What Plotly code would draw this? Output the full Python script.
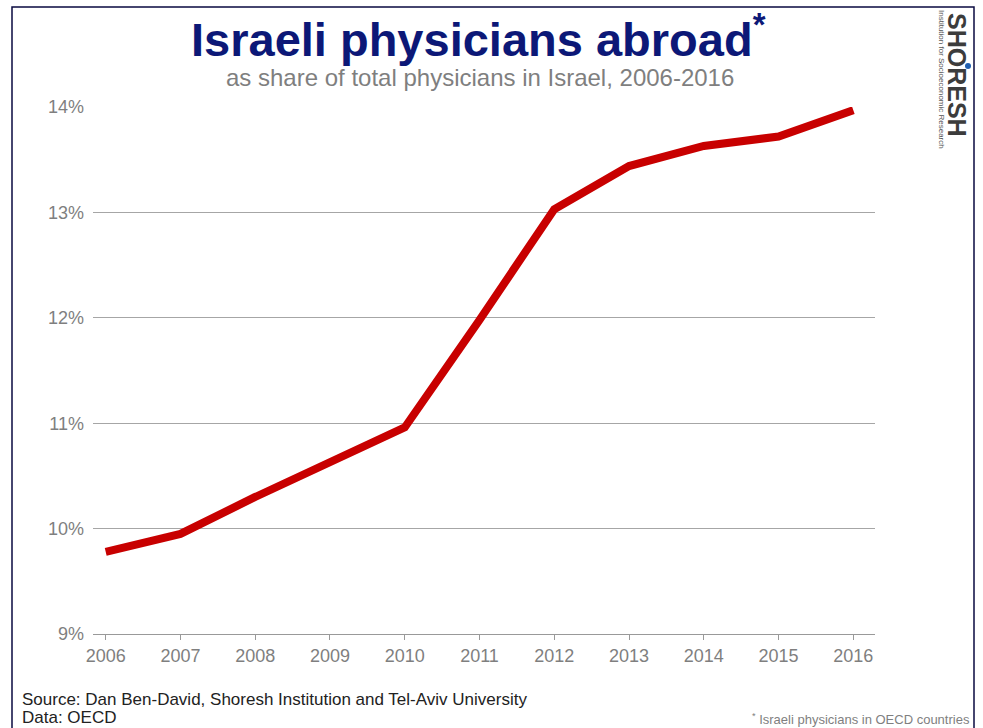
import plotly.graph_objects as go

years = [2006, 2007, 2008, 2009, 2010, 2011, 2012, 2013, 2014, 2015, 2016]
share_abroad = [9.78, 9.95, 10.30, 10.64, 10.96, 11.98, 13.03, 13.44, 13.63, 13.72, 13.97]
y_ticks = [9, 10, 11, 12, 13, 14]
y_tick_labels = ["9%", "10%", "11%", "12%", "13%", "14%"]

W, H = 983, 728
LEFT, RIGHT, TOP, BOTTOM = 93, 875, 107, 634
PW, PH = RIGHT - LEFT, BOTTOM - TOP


def px(x):
    return (x - LEFT) / PW


def py(y):
    return (BOTTOM - y) / PH


NAVY = "#0c1877"
GREY = "#7f7f7f"
FONT = "Liberation Sans, Arial, sans-serif"

fig = go.Figure()
fig.add_trace(go.Scatter(
    x=years, y=share_abroad, mode="lines",
    line=dict(color="#c80000", width=8),
    cliponaxis=False, hoverinfo="x+y",
))

annotations = [
    dict(text="<b>Israeli physicians abroad<sup>*</sup></b>", x=px(478), y=py(36),
         font=dict(size=47, color=NAVY)),
    dict(text="as share of total physicians in Israel, 2006-2016", x=px(480), y=py(77),
         font=dict(size=24, color=GREY)),
    dict(text="Source: Dan Ben-David, Shoresh Institution and Tel-Aviv University", x=px(20), y=py(699),
         xanchor="left", font=dict(size=17, color="#222222")),
    dict(text="Data: OECD", x=px(20), y=py(717), xanchor="left", font=dict(size=17, color="#222222")),
    dict(text="<sup>*</sup> Israeli physicians in OECD countries", x=px(972), y=py(719), xanchor="right",
         font=dict(size=13, color=GREY)),
    dict(text="<b>SHORESH</b>", x=px(957), y=py(75), textangle=90,
         font=dict(size=25, color="#3c3c3c")),
    dict(text="Institution for Socioeconomic Research", x=px(941), y=py(79), textangle=90,
         font=dict(size=8, color="#555555")),
]
for a in annotations:
    a.update(xref="paper", yref="paper", showarrow=False)
    a.setdefault("xanchor", "center")
    a.setdefault("yanchor", "middle")

fig.update_layout(
    width=W, height=H,
    margin=dict(l=LEFT, r=W - RIGHT, t=TOP, b=H - BOTTOM),
    paper_bgcolor="white", plot_bgcolor="white",
    font=dict(family=FONT, color=GREY),
    showlegend=False,
    annotations=annotations,
    shapes=[
        dict(type="rect", xref="paper", yref="paper", x0=px(12), x1=px(974), y0=py(740), y1=py(7),
             line=dict(color="#0a0a40", width=1.5)),
        dict(type="circle", xref="paper", yref="paper", x0=px(965), x1=px(971), y0=py(69), y1=py(63),
             fillcolor="#1f5fb0", line=dict(width=0)),
    ],
    xaxis=dict(
        range=[2005.83, 2016.29], tickvals=years, showgrid=False, zeroline=False,
        showline=True, linecolor="#999999", linewidth=1,
        ticks="outside", ticklen=5, tickcolor="#999999",
        tickfont=dict(size=18, color=GREY),
    ),
    yaxis=dict(
        range=[9, 14], tickvals=y_ticks, ticktext=y_tick_labels,
        showgrid=True, gridcolor="#a6a6a6", gridwidth=1, zeroline=False,
        tickfont=dict(size=18, color=GREY), ticks="", ticklabelstandoff=8,
    ),
)

fig.write_html("out.html", config={"displayModeBar": False},
               post_script="document.body.style.margin='0';")
